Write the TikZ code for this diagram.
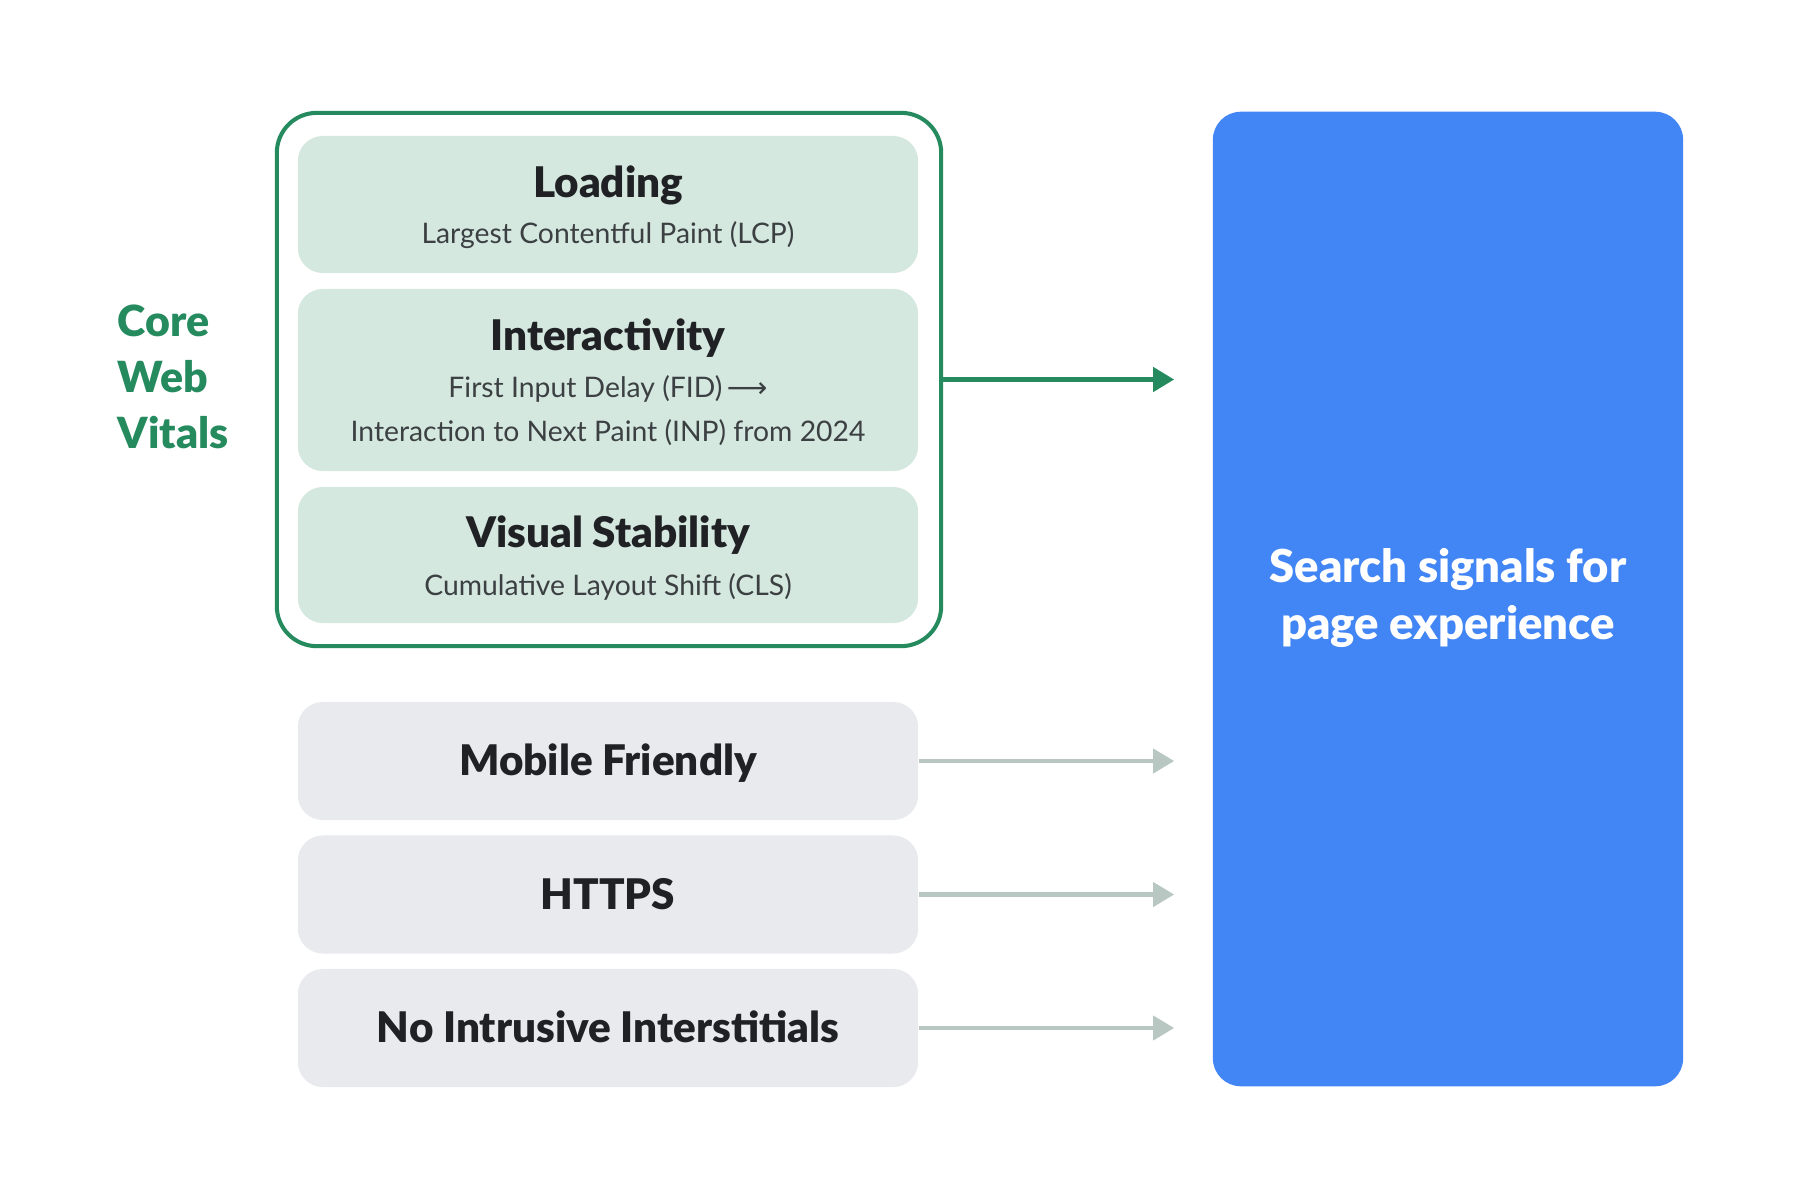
\documentclass[tikz,border=0pt]{standalone}
\usepackage{fontspec}
\setmainfont{Lato}
\newfontfamily\heavyfont{Lato Black}
\newfontfamily\arrowfont{DejaVu Sans}
\usetikzlibrary{arrows.meta}

\definecolor{cwvgreen}{HTML}{258B5F}
\definecolor{cwvfill}{HTML}{D4E8DF}
\definecolor{otherfill}{HTML}{E8EAED}
\definecolor{otherline}{HTML}{B8C7C2}
\definecolor{signalblue}{HTML}{4285F4}
\definecolor{titletext}{HTML}{202124}
\definecolor{subtext}{HTML}{3C4043}

\tikzset{
  metricbox/.style={fill=cwvfill, rounded corners=0.25cm, minimum width=6.2cm},
  otherbox/.style={fill=otherfill, rounded corners=0.25cm, minimum width=6.2cm, minimum height=1.18cm},
  title/.style={anchor=base, inner sep=0pt, text=titletext, font=\fontsize{12}{13}\selectfont\heavyfont},
  sub/.style={anchor=base, inner sep=0pt, text=subtext, font=\fontsize{8.05}{9}\selectfont},
  cwvarrow/.style={draw=cwvgreen, line width=1.3pt, -{Triangle[length=2.1mm,width=2.4mm]}, shorten >=0.38cm},
  otherarrow/.style={draw=otherline, line width=1.15pt, -{Triangle[length=2.1mm,width=2.4mm]}, shorten >=0.38cm}
}

\begin{document}
\begin{tikzpicture}[x=0.01cm, y=-0.01cm]
\useasboundingbox (0,0) rectangle (1800,1200);
\fill[white] (0,0) rectangle (1800,1200);

% core web vitals group
\node[draw=cwvgreen, line width=1.15pt, rounded corners=0.4cm, minimum width=6.64cm, minimum height=5.33cm] (cwv) at (609,379.5) {};
\node[metricbox, minimum height=1.37cm] (load) at (608,204.5) {};
\node[metricbox, minimum height=1.82cm] (inter) at (608,380) {};
\node[metricbox, minimum height=1.36cm] (visual) at (608,555) {};

\node[title] (loadT) at (608,197) {Loading};
\node[sub] (loadS) at (608,243) {Largest Contentful Paint (LCP)};
\node[title] (interT) at (608,350) {Interactivity};
\node[sub] (interS) at (608,397) {First Input Delay (FID)\,{\arrowfont ⟶}};
\node[sub] (interN) at (608,441) {Interaction to Next Paint (INP) from 2024};
\node[title] (visualT) at (608,547) {Visual Stability};
\node[sub] (visualS) at (608,595) {Cumulative Layout Shift (CLS)};

\node[anchor=base west, inner sep=0pt, text=cwvgreen, align=left,
  font=\fontsize{12.2}{15.8}\selectfont\heavyfont] (cwvlabel) at (117,448) {Core\\Web\\Vitals};

% other signals
\node[otherbox] (mobile) at (608,761) {};
\node[otherbox] (https) at (608,894.5) {};
\node[otherbox] (inter2) at (608,1028) {};
\node[title] at (608,775.5) {Mobile Friendly};
\node[title] at (608,909) {HTTPS};
\node[title] at (608,1042) {No Intrusive Interstitials};

% page experience
\node[fill=signalblue, rounded corners=0.28cm, minimum width=4.7cm, minimum height=9.74cm] (signals) at (1448,599) {};
\node[text=white, align=center, inner sep=0pt, font=\fontsize{12.9}{16}\selectfont\heavyfont] (signalsT) at (1448,598) {Search signals for\\page experience};

\draw[cwvarrow] (cwv.east) -- (cwv.east -| signals.west);
\draw[otherarrow] (mobile.east) -- (mobile.east -| signals.west);
\draw[otherarrow] (https.east) -- (https.east -| signals.west);
\draw[otherarrow] (inter2.east) -- (inter2.east -| signals.west);
\end{tikzpicture}
\end{document}
